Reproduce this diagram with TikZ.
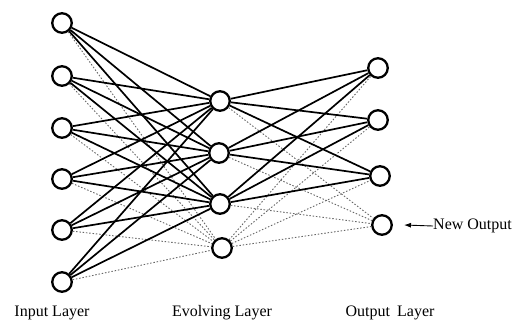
\documentclass[tikz,border=0pt]{standalone}
\usepackage{fontspec}
\setmainfont{Liberation Serif}
\usetikzlibrary{arrows.meta}
\begin{document}
\begin{tikzpicture}[x=1pt,y=-1pt,
  neuron/.style={circle,draw,line width=2.3pt,minimum size=19.5pt,inner sep=0pt},
  link/.style={line width=1.7pt},
  faint/.style={line width=0.9pt,black!60,dash pattern=on 1.5pt off 1.8pt},
  lbl/.style={font=\fontsize{16}{19}\selectfont,inner sep=0pt}]
\useasboundingbox (0,0) rectangle (516,324);

% input layer
\foreach \i/\y in {1/23,2/76,3/128,4/179,5/230,6/282}
  \node[neuron] (in\i) at (62,\y) {};
% evolving layer
\foreach \i/\x/\y in {1/220/101,2/219/153,3/220/204,4/222/248}
  \node[neuron] (ev\i) at (\x,\y) {};
% output layer
\foreach \i/\x/\y in {1/378/68,2/378/120,3/380/176,4/382/225}
  \node[neuron] (out\i) at (\x,\y) {};

% dotted links to and from the newly added units
\foreach \i in {1,...,6}
  \draw[faint] (in\i) -- (ev4);
\foreach \j in {1,...,4}
  \draw[faint] (ev4) -- (out\j);
\foreach \j in {1,2,3}
  \draw[faint] (ev\j) -- (out4);

% trained links
\foreach \i in {1,...,6}
  \foreach \j in {1,2,3}
    \draw[link] (in\i) -- (ev\j);
\foreach \i in {1,2,3}
  \foreach \j in {1,2,3}
    \draw[link] (ev\i) -- (out\j);

% labels
\node[lbl] at (52,313) {Input Layer};
\node[lbl] at (222,313) {Evolving Layer};
\node[lbl] at (390,313) {Output\hspace{0.45em}Layer};
\node[lbl,anchor=west] (newout) at (433,226) {New Output};
\coordinate (tip) at (404,225);
\draw[line width=0.9pt,-{Latex[length=7pt,width=5pt]}] (newout.west) -- (tip);
\end{tikzpicture}
\end{document}
